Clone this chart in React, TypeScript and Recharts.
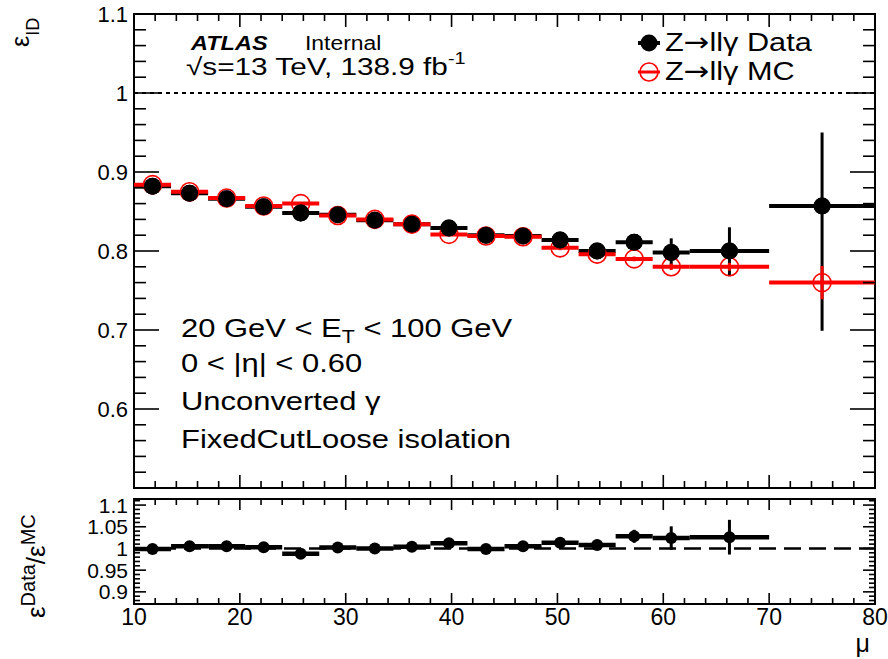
import React from 'react';
import { ComposedChart, Scatter, XAxis, YAxis, ErrorBar, ReferenceLine, ReferenceArea } from 'recharts';

// mu bins: centre and half width
const MU_CENTRES = [11.75, 15.25, 18.75, 22.25, 25.75, 29.25, 32.75, 36.25, 39.75, 43.25, 46.75, 50.25, 53.75, 57.25, 60.75, 66.25, 75];
const MU_HALF_WIDTHS = [1.75, 1.75, 1.75, 1.75, 1.75, 1.75, 1.75, 1.75, 1.75, 1.75, 1.75, 1.75, 1.75, 1.75, 1.75, 3.75, 5];

// Z->llg data efficiency
const DATA_EFF = [0.882, 0.873, 0.866, 0.856, 0.848, 0.846, 0.839, 0.834, 0.829, 0.820, 0.819, 0.814, 0.800, 0.811, 0.798, 0.800, 0.857];
const DATA_ERR_DOWN = [0.003, 0.002, 0.002, 0.002, 0.002, 0.002, 0.002, 0.002, 0.003, 0.003, 0.003, 0.004, 0.006, 0.008, 0.018, 0.032, 0.158];
const DATA_ERR_UP = [0.003, 0.002, 0.002, 0.002, 0.002, 0.002, 0.002, 0.002, 0.003, 0.003, 0.003, 0.004, 0.006, 0.008, 0.018, 0.030, 0.093];

// Z->llg MC efficiency
const MC_EFF = [0.884, 0.875, 0.867, 0.857, 0.860, 0.845, 0.840, 0.834, 0.821, 0.819, 0.818, 0.804, 0.796, 0.790, 0.780, 0.780, 0.760];
const MC_ERR = [0.002, 0.002, 0.002, 0.002, 0.002, 0.002, 0.002, 0.002, 0.002, 0.002, 0.002, 0.003, 0.003, 0.003, 0.004, 0.005, 0.021];

// data / MC (last bin is off scale)
const RATIO = [0.999, 1.005, 1.005, 1.003, 0.988, 1.002, 1.000, 1.004, 1.012, 0.999, 1.005, 1.013, 1.008, 1.028, 1.024, 1.026];
const RATIO_ERR = [0.004, 0.003, 0.003, 0.003, 0.003, 0.003, 0.003, 0.003, 0.004, 0.004, 0.004, 0.005, 0.012, 0.015, 0.027, 0.040];

const X_LABELS = [10, 20, 30, 40, 50, 60, 70, 80];
const EFF_LABELS = ['0.6', '0.7', '0.8', '0.9', '1', '1.1'];
const RATIO_LABELS = ['0.9', '0.95', '1', '1.05', '1.1'];

const range = (a: number, b: number, s: number) =>
  Array.from({ length: Math.round((b - a) / s) + 1 }, (_, i) => +(a + i * s).toFixed(4));

const X_TICKS = range(10, 80, 2);
const EFF_TICKS = range(0.5, 1.1, 0.02);
const RATIO_TICKS = range(0.88, 1.11, 0.01);

const FONT = '"Liberation Sans", Arial, Helvetica, sans-serif';
const ARROW_FONT = '"DejaVu Sans", sans-serif';
const W = 888;
const PL = 134;
const PR = 875;
const EFF_H = 495;
const EFF_TOP = 14;
const EFF_BOTTOM = 488;
const RAT_H = 164;
const RAT_TOP = 4;
const RAT_BOTTOM = 109;

const near = (a: number, b: number) => Math.abs(a - b) < 1e-6;

const effRows = MU_CENTRES.map((mu, i) => ({
  mu,
  xerr: MU_HALF_WIDTHS[i],
  data: DATA_EFF[i],
  dataErr: [DATA_ERR_DOWN[i], DATA_ERR_UP[i]],
  mc: MC_EFF[i],
  mcErr: MC_ERR[i],
}));

const ratioRows = RATIO.map((r, i) => ({
  mu: MU_CENTRES[i],
  xerr: MU_HALF_WIDTHS[i],
  ratio: r,
  ratioErr: RATIO_ERR[i],
}));

const xTick = (top: number, bottom: number, major: number, minor: number, labels: boolean) => (props: any) => {
  const { x, payload } = props;
  const isMajor = X_LABELS.includes(payload.value);
  const len = isMajor ? major : minor;
  return (
    <g>
      <line x1={x} x2={x} y1={bottom} y2={bottom - len} stroke="#000" strokeWidth={1.6} />
      <line x1={x} x2={x} y1={top} y2={top + len} stroke="#000" strokeWidth={1.6} />
      {labels && isMajor && (
        <text x={x} y={bottom + 21} textAnchor="middle" fontSize={23} fontFamily={FONT} fill="#000">
          {payload.value}
        </text>
      )}
    </g>
  );
};

const yTick = (labels: string[], major: number, minor: number, fontSize: number) => (props: any) => {
  const { y, payload } = props;
  const label = labels.find((l) => near(parseFloat(l), payload.value));
  const isMajor = label !== undefined || near(payload.value, 0.5);
  const len = isMajor ? major : minor;
  return (
    <g>
      <line x1={PL} x2={PL + len} y1={y} y2={y} stroke="#000" strokeWidth={1.6} />
      <line x1={PR} x2={PR - len} y1={y} y2={y} stroke="#000" strokeWidth={1.6} />
      {label && (
        <text x={PL - 6} y={y} dy="0.36em" textAnchor="end" fontSize={fontSize} fontFamily={FONT} fill="#000">
          {label}
        </text>
      )}
    </g>
  );
};

const dataDot = (r: number) => (p: any) => <circle cx={p.cx} cy={p.cy} r={r} fill="#000" />;
const mcDot = (p: any) => <circle cx={p.cx} cy={p.cy} r={9} fill="none" stroke="#ff0000" strokeWidth={1.6} />;

// ROOT renders its Helvetica a little wider than Liberation Sans
const wide = (x: number, y: number, sx: number) => `translate(${x},${y}) scale(${sx},1)`;

export default function App() {
  return (
    <div style={{ position: 'absolute', left: 0, top: 0, width: W, height: 659, background: '#fff', fontFamily: FONT }}>
      <ComposedChart width={W} height={EFF_H} data={effRows} margin={{ top: EFF_TOP, right: W - PR, bottom: EFF_H - EFF_BOTTOM - 1, left: PL - 1 }}>
        <XAxis type="number" dataKey="mu" domain={[10, 80]} ticks={X_TICKS} interval={0} height={1}
          axisLine={false} tickLine={false} tick={xTick(EFF_TOP, EFF_BOTTOM, 13, 7, false)} allowDataOverflow />
        <YAxis type="number" domain={[0.5, 1.1]} ticks={EFF_TICKS} interval={0} width={1}
          axisLine={false} tickLine={false} tick={yTick(EFF_LABELS, 25, 12, 22)} allowDataOverflow />
        <ReferenceLine y={1} stroke="#000" strokeWidth={2} strokeDasharray="4 4" />
        <Scatter dataKey="data" isAnimationActive={false} shape={dataDot(8.5)} legendType="none">
          <ErrorBar dataKey="xerr" direction="x" width={0} stroke="#000" strokeWidth={4} isAnimationActive={false} />
          <ErrorBar dataKey="dataErr" direction="y" width={0} stroke="#000" strokeWidth={3} isAnimationActive={false} />
        </Scatter>
        <Scatter dataKey="mc" isAnimationActive={false} shape={mcDot} legendType="none">
          <ErrorBar dataKey="xerr" direction="x" width={0} stroke="#ff0000" strokeWidth={4} isAnimationActive={false} />
          <ErrorBar dataKey="mcErr" direction="y" width={0} stroke="#ff0000" strokeWidth={3} isAnimationActive={false} />
        </Scatter>
        <Scatter dataKey="data" isAnimationActive={false} shape={dataDot(8.5)} legendType="none" />
        <ReferenceArea x1={10} x2={80} y1={0.5} y2={1.1} fill="none" stroke="#000" strokeWidth={2} ifOverflow="visible" />

        <text transform="translate(29,47) rotate(-90)" fontSize={25} fontFamily={FONT} fill="#000">
          ε<tspan dy={10} fontSize={18}>ID</tspan>
        </text>

        <text transform={wide(191, 50, 1.12)} fontSize={21} fontFamily={FONT} fontWeight="bold" fontStyle="italic" fill="#000">ATLAS</text>
        <text transform={wide(305, 50, 1.09)} fontSize={21} fontFamily={FONT} fill="#000">Internal</text>
        <text transform={wide(186, 75, 1.24)} fontSize={24} fontFamily={FONT} fill="#000">
          √s=13 TeV, 138.9 fb<tspan dy={-11} fontSize={16}>-1</tspan>
        </text>

        <line x1={638} x2={660} y1={43} y2={43} stroke="#000" strokeWidth={4} />
        <circle cx={649} cy={43} r={8.5} fill="#000" />
        <text transform={wide(665, 51, 1.18)} fontSize={26} fontFamily={FONT} fill="#000">
          Z<tspan fontFamily={ARROW_FONT}>→</tspan>llγ Data
        </text>
        <line x1={638} x2={660} y1={72} y2={72} stroke="#ff0000" strokeWidth={3} />
        <circle cx={649} cy={72} r={9} fill="none" stroke="#ff0000" strokeWidth={1.6} />
        <text transform={wide(665, 80, 1.18)} fontSize={26} fontFamily={FONT} fill="#000">
          Z<tspan fontFamily={ARROW_FONT}>→</tspan>llγ MC
        </text>

        <text transform={wide(181, 337, 1.19)} fontSize={26} fontFamily={FONT} fill="#000">
          20 GeV &lt; E<tspan dy={6} fontSize={18}>T</tspan><tspan dy={-6}> &lt; 100 GeV</tspan>
        </text>
        <text transform={wide(181, 372, 1.19)} fontSize={26} fontFamily={FONT} fill="#000">0 &lt;  |η| &lt; 0.60</text>
        <text transform={wide(181, 410, 1.19)} fontSize={26} fontFamily={FONT} fill="#000">Unconverted γ</text>
        <text transform={wide(181, 448, 1.19)} fontSize={26} fontFamily={FONT} fill="#000">FixedCutLoose isolation</text>
      </ComposedChart>

      <ComposedChart width={W} height={RAT_H} data={ratioRows} margin={{ top: RAT_TOP, right: W - PR, bottom: RAT_H - RAT_BOTTOM - 1, left: PL - 1 }}>
        <XAxis type="number" dataKey="mu" domain={[10, 80]} ticks={X_TICKS} interval={0} height={1}
          axisLine={false} tickLine={false} tick={xTick(RAT_TOP, RAT_BOTTOM, 11, 6, true)} allowDataOverflow />
        <YAxis type="number" domain={[0.872, 1.114]} ticks={RATIO_TICKS} interval={0} width={1}
          axisLine={false} tickLine={false} tick={yTick(RATIO_LABELS, 12, 6, 21)} allowDataOverflow />
        <ReferenceLine y={1} stroke="#000" strokeWidth={2.5} strokeDasharray="17 8" />
        <Scatter dataKey="ratio" isAnimationActive={false} shape={dataDot(6)} legendType="none">
          <ErrorBar dataKey="xerr" direction="x" width={0} stroke="#000" strokeWidth={4.5} isAnimationActive={false} />
          <ErrorBar dataKey="ratioErr" direction="y" width={0} stroke="#000" strokeWidth={3} isAnimationActive={false} />
        </Scatter>
        <ReferenceArea x1={10} x2={80} y1={0.872} y2={1.114} fill="none" stroke="#000" strokeWidth={2} ifOverflow="visible" />

        <text transform="translate(45,123) rotate(-90)" fontSize={26} fontFamily={FONT} fill="#000">
          ε<tspan dy={-10} fontSize={20}>Data</tspan><tspan dy={10} fontSize={26}>/ε</tspan><tspan dy={-10} fontSize={20}>MC</tspan>
        </text>
        <text x={870} y={157} textAnchor="end" fontSize={25} fontFamily={FONT} fill="#000">μ</text>
      </ComposedChart>
    </div>
  );
}
